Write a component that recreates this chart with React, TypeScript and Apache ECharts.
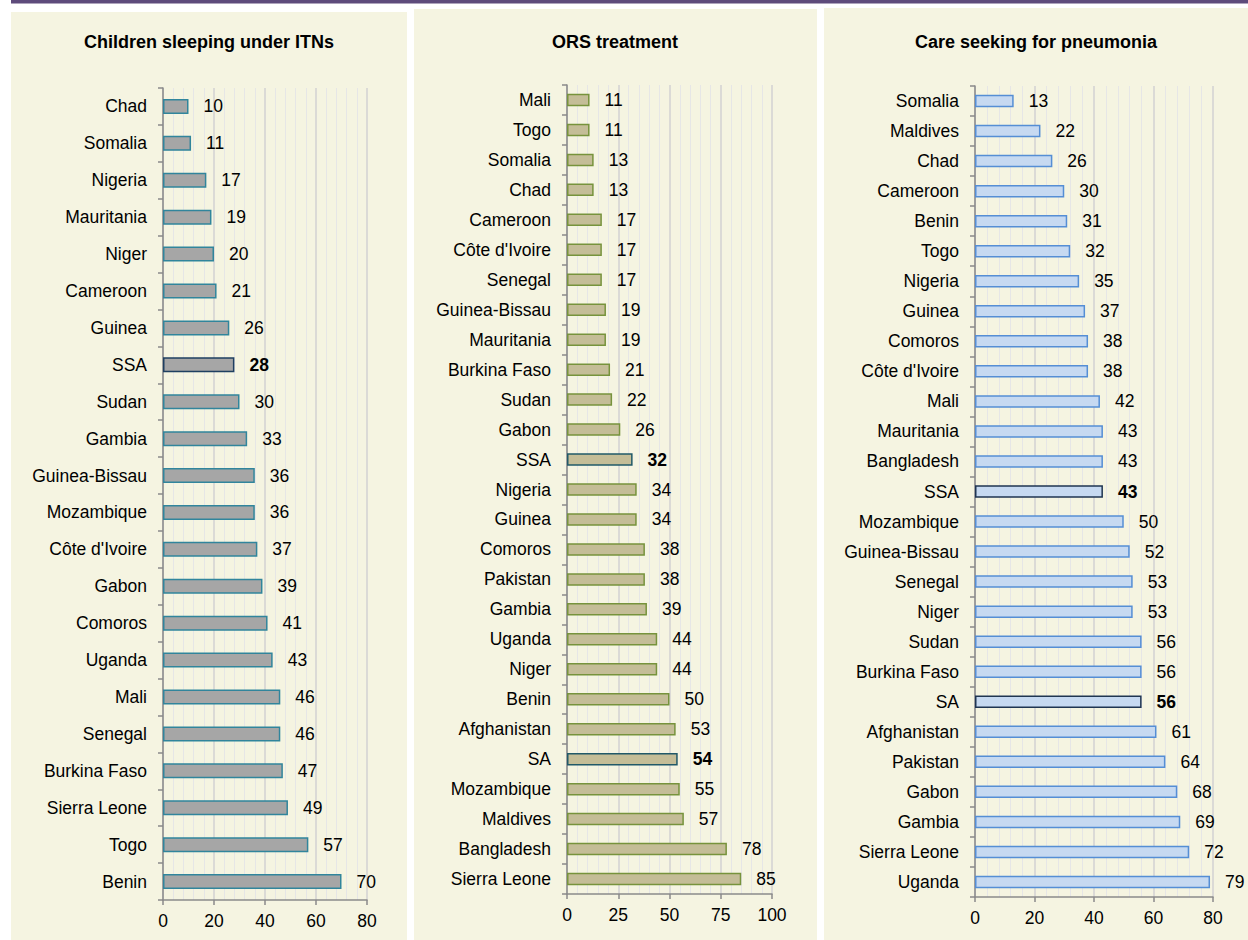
import React, { useEffect, useRef } from "react";
import * as echarts from "echarts";

const itnCategories = ["Chad", "Somalia", "Nigeria", "Mauritania", "Niger", "Cameroon", "Guinea", "SSA", "Sudan", "Gambia", "Guinea-Bissau", "Mozambique", "Côte d'Ivoire", "Gabon", "Comoros", "Uganda", "Mali", "Senegal", "Burkina Faso", "Sierra Leone", "Togo", "Benin"];
const itnValues = [10, 11, 17, 19, 20, 21, 26, 28, 30, 33, 36, 36, 37, 39, 41, 43, 46, 46, 47, 49, 57, 70];

const orsCategories = ["Mali", "Togo", "Somalia", "Chad", "Cameroon", "Côte d'Ivoire", "Senegal", "Guinea-Bissau", "Mauritania", "Burkina Faso", "Sudan", "Gabon", "SSA", "Nigeria", "Guinea", "Comoros", "Pakistan", "Gambia", "Uganda", "Niger", "Benin", "Afghanistan", "SA", "Mozambique", "Maldives", "Bangladesh", "Sierra Leone"];
const orsValues = [11, 11, 13, 13, 17, 17, 17, 19, 19, 21, 22, 26, 32, 34, 34, 38, 38, 39, 44, 44, 50, 53, 54, 55, 57, 78, 85];

const pneuCategories = ["Somalia", "Maldives", "Chad", "Cameroon", "Benin", "Togo", "Nigeria", "Guinea", "Comoros", "Côte d'Ivoire", "Mali", "Mauritania", "Bangladesh", "SSA", "Mozambique", "Guinea-Bissau", "Senegal", "Niger", "Sudan", "Burkina Faso", "SA", "Afghanistan", "Pakistan", "Gabon", "Gambia", "Sierra Leone", "Uganda"];
const pneuValues = [13, 22, 26, 30, 31, 32, 35, 37, 38, 38, 42, 43, 43, 43, 50, 52, 53, 53, 56, 56, 56, 61, 64, 68, 69, 72, 79];

const titles = ["Children sleeping under ITNs", "ORS treatment", "Care seeking for pneumonia"];
const axisMax = [80, 100, 80];
const axisInterval = [20, 25, 20];
const highlightNames = ["SSA", "SA"];

const FONT = '"Liberation Sans", Arial, sans-serif';

export default function App() {
  const ref = useRef<HTMLDivElement>(null);

  useEffect(() => {
    if (!ref.current) return;
    const chart = echarts.init(ref.current, undefined, { renderer: "svg" });

    const panels = [
      { cats: itnCategories, vals: itnValues, fill: "#a6a6a6", border: "#31859c", hi: "#1f3f60", grid: { left: 163, top: 88, width: 204, height: 812 }, barWidth: 15, bg: { x: 11, y: 12, w: 396, h: 928 }, tx: 209 },
      { cats: orsCategories, vals: orsValues, fill: "#c4bd97", border: "#77933c", hi: "#215968", grid: { left: 567, top: 85, width: 205, height: 809 }, barWidth: 12.5, bg: { x: 414, y: 9, w: 403, h: 931 }, tx: 615 },
      { cats: pneuCategories, vals: pneuValues, fill: "#c6d9f1", border: "#558ed5", hi: "#1f3552", grid: { left: 975, top: 86, width: 238, height: 811 }, barWidth: 12.5, bg: { x: 824, y: 8, w: 424, h: 932 }, tx: 1036 },
    ];

    const axisColor = "#8a8a8a";

    const option: any = {
      animation: false,
      backgroundColor: "#ffffff",
      graphic: [
        { type: "rect", z: -10, shape: { x: 11, y: 0, width: 1237, height: 3.5 }, style: { fill: "#5e4b7b" } },
        ...panels.map((p) => ({ type: "rect", z: -10, shape: { x: p.bg.x, y: p.bg.y, width: p.bg.w, height: p.bg.h }, style: { fill: "#f5f4e1" } })),
        ...panels.map((p, i) => ({
          type: "text",
          z: 10,
          x: p.tx,
          y: 42,
          style: { text: titles[i], fontSize: 18, fontWeight: "bold", fontFamily: FONT, fill: "#000", textAlign: "center", textVerticalAlign: "middle" },
        })),
      ],
      grid: panels.map((p) => ({ ...p.grid, containLabel: false })),
      xAxis: panels.map((p, i) => ({
        type: "value",
        gridIndex: i,
        min: 0,
        max: axisMax[i],
        interval: axisInterval[i],
        axisLine: { show: true, lineStyle: { color: axisColor, width: 1.5 } },
        axisTick: { show: true, length: 5, lineStyle: { color: axisColor, width: 1.5 } },
        axisLabel: { margin: 12, fontSize: 17.5, color: "#000", fontFamily: FONT },
        splitLine: { show: true, lineStyle: { color: "#d2d2d2", width: 1.5 } },
        minorTick: { show: false, splitNumber: 5 },
        minorSplitLine: { show: true, lineStyle: { color: "#e6e6e6", width: 1 } },
      })),
      yAxis: panels.map((p, i) => ({
        type: "category",
        gridIndex: i,
        inverse: true,
        data: p.cats,
        axisLine: { show: true, lineStyle: { color: axisColor, width: 1.5 } },
        axisTick: { show: true, length: 5, lineStyle: { color: axisColor, width: 1.5 } },
        axisLabel: { margin: 16, fontSize: 17.5, color: "#000", fontFamily: FONT },
        splitLine: { show: false },
      })),
      series: panels.map((p, i) => ({
        type: "bar",
        xAxisIndex: i,
        yAxisIndex: i,
        barWidth: p.barWidth,
        itemStyle: { color: p.fill, borderColor: p.border, borderWidth: 1.5 },
        label: { show: true, position: "right", distance: 15, fontSize: 17.5, color: "#000", fontFamily: FONT },
        data: p.vals.map((v, j) => {
          const hi = highlightNames.includes(p.cats[j]);
          return hi
            ? { value: v, itemStyle: { borderColor: p.hi }, label: { fontWeight: "bold" } }
            : { value: v };
        }),
      })),
    };

    chart.setOption(option);
    return () => chart.dispose();
  }, []);

  return <div ref={ref} style={{ position: "fixed", left: 0, top: 0, width: 1248, height: 940 }} />;
}
